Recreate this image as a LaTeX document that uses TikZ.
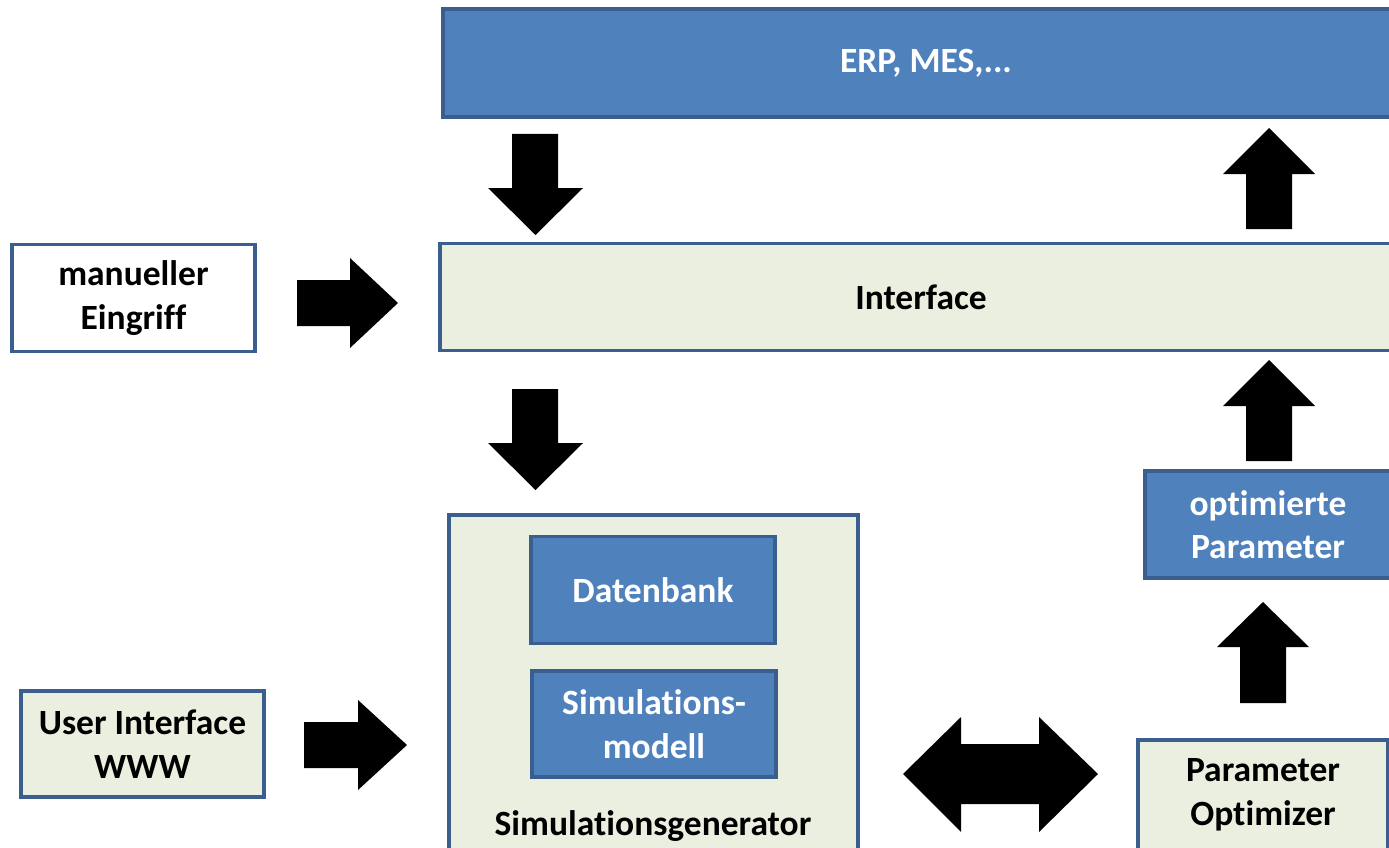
\documentclass[tikz,border=0pt]{standalone}
\usepackage{fontspec}
\setmainfont{Carlito}[Ligatures={CommonOff,ContextualOff}]
\definecolor{boxblue}{RGB}{79,129,189}
\definecolor{edgeblue}{RGB}{58,95,142}
\definecolor{paleolive}{RGB}{235,239,223}
\begin{document}
\begin{tikzpicture}[x=1pt,y=-1pt,
  box/.style={draw=edgeblue, line width=3.3pt, rectangle, align=center,
    font=\fontsize{35.5}{43.5}\selectfont\bfseries, inner sep=0pt},
  bluebox/.style={box, fill=boxblue, text=white},
  palebox/.style={box, fill=paleolive, text=black},
  whitebox/.style={box, fill=white, text=black},
  label/.style={font=\fontsize{35.5}{43.5}\selectfont\bfseries, inner sep=0pt},
  blockarrow/.style={fill=black}]
\useasboundingbox (0,0) rectangle (1389,848);
\clip (0,0) rectangle (1389,848);

% top system layer and interface
\node[bluebox, minimum width=966, minimum height=108] (erp) at (926,63) {ERP, MES,...};
\node[palebox, minimum width=962, minimum height=107] (iface) at (921,297) {Interface};

% inputs on the left
\node[whitebox, minimum width=243, minimum height=107] (manual) at (133.5,298) {manueller\\Eingriff};
\node[palebox, minimum width=243, minimum height=106] (www) at (142.5,744) {User Interface\\WWW};

% simulation generator with its parts
\node[palebox, minimum width=409, minimum height=340] (gen) at (653.5,685) {};
\node[bluebox, minimum width=244, minimum height=107] (db) at (653,590) {Datenbank};
\node[bluebox, minimum width=244, minimum height=106] (model) at (654,724) {Simulations-\\modell};
\node[label] (genlabel) at (653,826) {Simulationsgenerator};

% optimisation on the right
\node[bluebox, minimum width=246, minimum height=107] (optpar) at (1268,524.5) {optimierte\\Parameter};
\node[palebox, minimum width=250, minimum height=110] (optim) at (1263,795) {Parameter\\Optimizer};

% block arrows
% ERP -> Interface
\fill[blockarrow] (512,134) -- (558,134) -- (558,188) -- (583,188) -- (535.5,235)
  -- (488,188) -- (512,188) -- cycle;
% Interface -> Simulationsgenerator
\fill[blockarrow] (512,389) -- (558,389) -- (558,443) -- (583,443) -- (535.5,490)
  -- (488,443) -- (512,443) -- cycle;
% manueller Eingriff -> Interface
\fill[blockarrow] (297,280) -- (350,280) -- (350,258) -- (398,303) -- (350,348)
  -- (350,326) -- (297,326) -- cycle;
% User Interface -> Simulationsgenerator
\fill[blockarrow] (304,722) -- (358,722) -- (358,700) -- (407,745) -- (358,790)
  -- (358,768) -- (304,768) -- cycle;
% Interface -> ERP
\fill[blockarrow] (1246,229) -- (1246,174) -- (1223,174) -- (1269,128) -- (1315,174)
  -- (1292,174) -- (1292,229) -- cycle;
% optimierte Parameter -> Interface
\fill[blockarrow] (1246,461) -- (1246,406) -- (1223,406) -- (1269,360) -- (1315,406)
  -- (1292,406) -- (1292,461) -- cycle;
% Optimizer -> optimierte Parameter
\fill[blockarrow] (1240,703) -- (1240,647) -- (1217,647) -- (1263,602) -- (1309,647)
  -- (1286,647) -- (1286,703) -- cycle;
% Simulationsgenerator <-> Optimizer
\fill[blockarrow] (903,774) -- (961,717) -- (961,744) -- (1039,744) -- (1039,717)
  -- (1098,774) -- (1039,832) -- (1039,804) -- (961,804) -- (961,832) -- cycle;
\end{tikzpicture}
\end{document}
